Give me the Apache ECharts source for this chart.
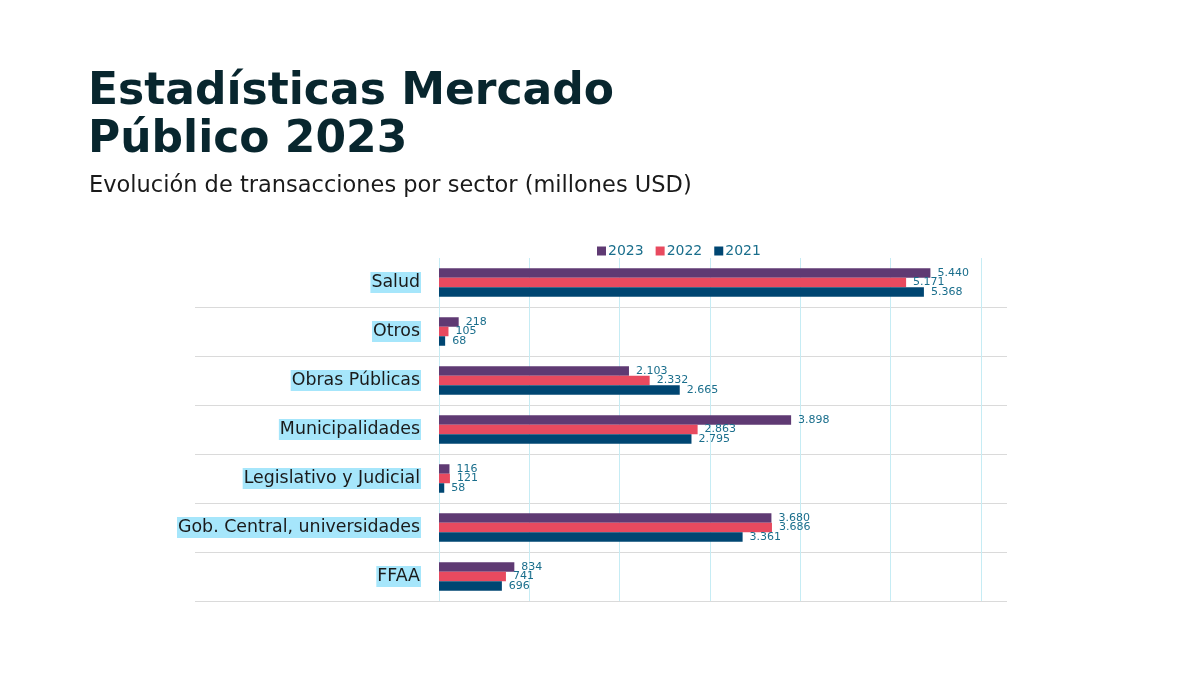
<!DOCTYPE html>
<html>
<head>
<meta charset="utf-8">
<script src="https://cdn.jsdelivr.net/npm/echarts@6/dist/echarts.min.js"></script>
<style>
  html, body { margin: 0; padding: 0; background: #ffffff; }
  #chart { width: 1200px; height: 675px; }
</style>
</head>
<body>
<div id="chart"></div>
<script>
// sectores, de abajo hacia arriba (eje de categorías)
const sectores = ['FFAA', 'Gob. Central, universidades', 'Legislativo y Judicial',
  'Municipalidades', 'Obras Públicas', 'Otros', 'Salud']
const v2023 = [834, 3680, 116, 3898, 2103, 218, 5440]
const v2022 = [741, 3686, 121, 2863, 2332, 105, 5171]
const v2021 = [696, 3361, 58, 2795, 2665, 68, 5368]
const anios = ['2023', '2022', '2021']
const colores = ['#5f3a73', '#e84a5f', '#004672']

const chart = echarts.init(document.getElementById('chart'))

// 5440 -> "5.440"
function fmt(n) {
  return String(n).replace(/\B(?=(\d{3})+(?!\d))/g, '.')
}

function serie(nombre, datos, color) {
  return {
    name: nombre,
    type: 'bar',
    data: datos,
    barWidth: 9.5,
    barGap: '0%',
    itemStyle: { color: color },
    label: {
      show: true,
      position: 'right',
      distance: 7,
      color: '#1a6e8c',
      fontSize: 11,
      fontFamily: 'DejaVu Sans',
      formatter: p => fmt(p.value)
    }
  }
}

const option = {
  backgroundColor: '#ffffff',
  animation: false,
  title: [{
    text: 'Estadísticas Mercado\nPúblico 2023',
    left: 83,
    top: 64,
    textStyle: {
      fontFamily: 'DejaVu Sans',
      fontWeight: 'bold',
      fontSize: 44,
      lineHeight: 48,
      color: '#08262e'
    }
  }, {
    text: 'Evolución de transacciones por sector (millones USD)',
    left: 84,
    top: 170,
    textStyle: {
      fontFamily: 'DejaVu Sans',
      fontWeight: 'normal',
      fontSize: 22.5,
      color: '#1a1a1a'
    }
  }],
  legend: {
    data: anios,
    top: 239,
    left: 592,
    itemWidth: 9,
    itemHeight: 9,
    itemGap: 12,
    icon: 'rect',
    textStyle: { color: '#1a6e8c', fontSize: 14, fontFamily: 'DejaVu Sans', padding: [0, 0, 0, -3] }
  },
  grid: [
    { left: 439, right: 219, top: 258, bottom: 74 },
    { left: 195, right: 193, top: 258, bottom: 74 }
  ],
  xAxis: [{
    type: 'value',
    gridIndex: 0,
    min: 0,
    max: 6000,
    interval: 1000,
    axisLabel: { show: false },
    axisLine: { show: false },
    axisTick: { show: false },
    splitLine: { lineStyle: { color: '#c6ecf4', width: 1 } }
  }, {
    type: 'value',
    gridIndex: 1,
    show: false
  }],
  yAxis: [{
    type: 'category',
    gridIndex: 0,
    data: sectores,
    axisLine: { show: false },
    axisTick: { show: false },
    splitLine: { show: false },
    axisLabel: {
      margin: 18,
      fontFamily: 'DejaVu Sans',
      fontSize: 17.4,
      color: '#1a1a1a',
      backgroundColor: '#a6e6fb',
      padding: [2, 1, 2, 1]
    }
  }, {
    // solo las líneas separadoras entre sectores
    type: 'category',
    gridIndex: 1,
    data: sectores,
    axisLine: { show: false },
    axisTick: { show: false },
    axisLabel: { show: false },
    splitLine: { show: true, showMaxLine: false, lineStyle: { color: '#dadada', width: 1 } }
  }],
  series: [
    serie(anios[0], v2023, colores[0]),
    serie(anios[1], v2022, colores[1]),
    serie(anios[2], v2021, colores[2])
  ]
}

chart.setOption(option)
</script>
</body>
</html>
